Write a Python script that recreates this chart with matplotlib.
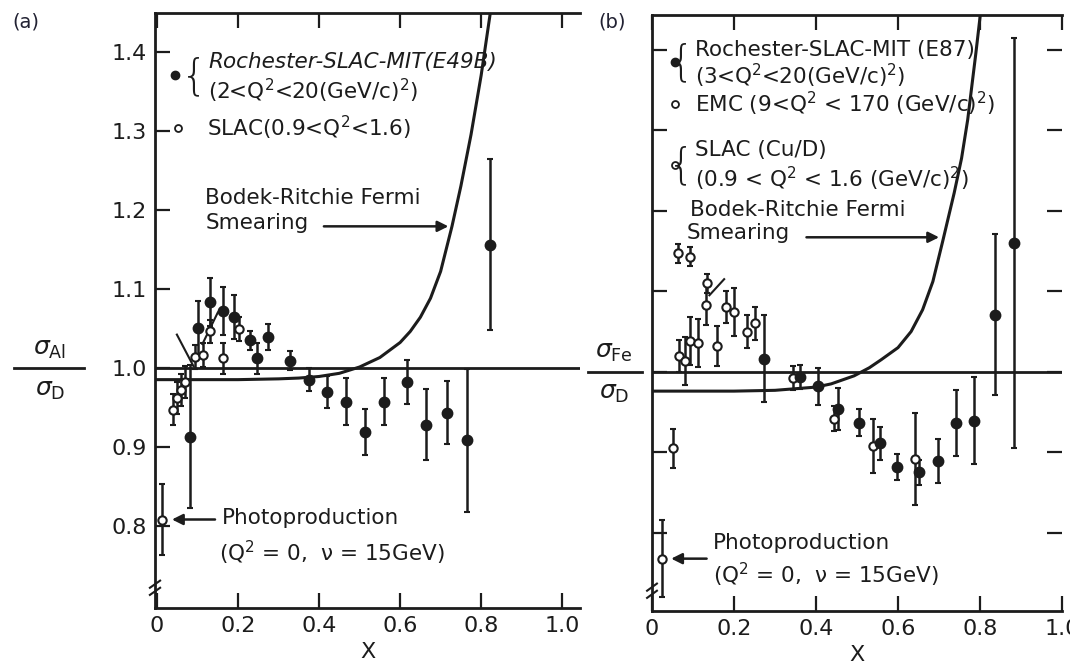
import matplotlib.pyplot as plt
from matplotlib.ticker import FixedLocator, NullFormatter

plt.rcParams['font.family'] = ['DejaVu Sans']

# ---- panel (a): Al / D ----
a_rsm_x = [0.081, 0.102, 0.131, 0.164, 0.191, 0.230, 0.246, 0.275, 0.328, 0.374,
           0.419, 0.467, 0.514, 0.560, 0.617, 0.664, 0.715, 0.765, 0.821]
a_rsm_y = [0.913, 1.050, 1.083, 1.072, 1.064, 1.035, 1.012, 1.039, 1.009, 0.985,
           0.969, 0.957, 0.919, 0.957, 0.982, 0.928, 0.943, 0.908, 1.156]
a_rsm_err = [0.090, 0.035, 0.030, 0.030, 0.028, 0.012, 0.020, 0.016, 0.012, 0.015,
             0.020, 0.030, 0.029, 0.030, 0.028, 0.045, 0.040, 0.090, 0.108]

a_slac_x = [0.012, 0.040, 0.050, 0.060, 0.068, 0.094, 0.114, 0.131, 0.164, 0.203]
a_slac_y = [0.808, 0.947, 0.962, 0.972, 0.982, 1.014, 1.016, 1.046, 1.012, 1.049]
a_slac_err = [0.045, 0.020, 0.020, 0.020, 0.020, 0.015, 0.015, 0.015, 0.020, 0.015]

# Bodek-Ritchie Fermi smearing curve
a_curve_x = [0.0, 0.1, 0.2, 0.3, 0.35, 0.40, 0.45, 0.50, 0.55, 0.60, 0.625, 0.65,
             0.675, 0.70, 0.728, 0.75, 0.775, 0.80, 0.822]
a_curve_y = [0.985, 0.985, 0.985, 0.986, 0.987, 0.989, 0.993, 1.001, 1.013, 1.032, 1.046, 1.064,
             1.088, 1.122, 1.179, 1.230, 1.295, 1.370, 1.447]

# ---- panel (b): Fe / D ----
b_rsm_x = [0.273, 0.362, 0.406, 0.454, 0.506, 0.556, 0.598, 0.650, 0.698, 0.741, 0.785, 0.837, 0.883]
b_rsm_y = [1.016, 0.994, 0.982, 0.954, 0.937, 0.911, 0.882, 0.875, 0.889, 0.937, 0.939, 1.071, 1.160]
b_rsm_err = [0.054, 0.015, 0.023, 0.026, 0.017, 0.021, 0.016, 0.016, 0.027, 0.041, 0.054, 0.100, 0.255]

b_open_x = [0.024, 0.052, 0.064, 0.093, 0.134, 0.132, 0.181, 0.199, 0.231, 0.251,
            0.067, 0.081, 0.093, 0.113, 0.158, 0.345, 0.443, 0.539, 0.642]
b_open_y = [0.768, 0.905, 1.147, 1.143, 1.110, 1.083, 1.080, 1.074, 1.050, 1.060,
            1.020, 1.013, 1.038, 1.036, 1.032, 0.992, 0.942, 0.908, 0.892]
b_open_err = [0.048, 0.024, 0.012, 0.012, 0.012, 0.025, 0.020, 0.030, 0.020, 0.020,
              0.020, 0.030, 0.030, 0.030, 0.025, 0.015, 0.015, 0.034, 0.057]

b_curve_x = [0.0, 0.1, 0.2, 0.3, 0.40, 0.437, 0.493, 0.53, 0.559, 0.60, 0.632, 0.66,
             0.685, 0.709, 0.737, 0.755, 0.770, 0.790, 0.800]
b_curve_y = [0.976, 0.976, 0.976, 0.977, 0.981, 0.985, 0.995, 1.005, 1.015, 1.030, 1.050, 1.077,
             1.112, 1.162, 1.222, 1.265, 1.313, 1.396, 1.440]

x_ticks = [0, 0.2, 0.4, 0.6, 0.8, 1.0]
x_labels = ['0', '0.2', '0.4', '0.6', '0.8', '1.0']
y_ticks = [0.8, 0.9, 1.0, 1.1, 1.2, 1.3, 1.4]
y_labels = ['0.8', '0.9', '1.0', '1.1', '1.2', '1.3', '1.4']

W, H = 1070, 665
fig = plt.figure(figsize=(W / 100, H / 100), dpi=100)
ax_a = fig.add_axes([155 / W, (H - 608) / H, (580 - 155) / W, (608 - 13) / H])
ax_b = fig.add_axes([652 / W, (H - 611) / H, (1062 - 652) / W, (611 - 15) / H])

ink = '#1c1c1c'
fs = 15.5


def frame(ax, xlim, ylim):
    ax.set_xlim(*xlim)
    ax.set_ylim(*ylim)
    for s in ['left', 'bottom', 'top']:
        ax.spines[s].set_linewidth(2)
        ax.spines[s].set_color(ink)
    ax.spines['right'].set_visible(False)
    ax.xaxis.set_major_locator(FixedLocator(x_ticks))
    ax.set_xticklabels(x_labels)
    ax.yaxis.set_major_locator(FixedLocator(y_ticks))
    ax.tick_params(direction='in', length=11, width=1.6, color=ink,
                   top=True, labelsize=16, labelcolor=ink, pad=6)
    ax.axhline(1.0, color=ink, lw=2)
    # axis break marks near the bottom of the y axis
    for dy in (0.0, 0.012):
        ax.plot([-0.012, 0.012], [0.022 + dy, 0.034 + dy], transform=ax.transAxes,
                color=ink, lw=1.5, clip_on=False)
    ax.set_xlabel('X', fontsize=16, color=ink, labelpad=4)


def points(ax, x, y, err, filled):
    ax.errorbar(x, y, yerr=err, fmt='o', ms=7 if filled else 6,
                mfc=ink if filled else 'white', mec=ink, mew=1.5,
                ecolor=ink, elinewidth=1.8, capsize=2.5, capthick=1.5, zorder=3)


def brace(ax, x, y):
    ax.text(x, y, '{', fontsize=30, va='center', ha='right', color=ink,
            fontweight='light')


# ---- draw (a) ----
frame(ax_a, (-0.005, 1.044), (0.696, 1.449))
ax_a.set_yticklabels(y_labels)
ax_a.plot(a_curve_x, a_curve_y, color=ink, lw=2.2, solid_joinstyle='round')
points(ax_a, a_rsm_x, a_rsm_y, a_rsm_err, True)
points(ax_a, a_slac_x, a_slac_y, a_slac_err, False)
ax_a.plot([0.049, 0.090], [1.042, 1.002], color=ink, lw=1.5)
ax_a.plot([0.112, 0.150], [1.030, 1.070], color=ink, lw=1.5)

ax_a.plot([0.044], [1.370], 'o', color=ink, ms=6)
brace(ax_a, 0.124, 1.368)
ax_a.text(0.126, 1.387, 'Rochester-SLAC-MIT(E49B)', fontsize=fs, style='italic',
          va='center', color=ink)
ax_a.text(0.126, 1.350, '(2<Q$^2$<20(GeV/c)$^2$)', fontsize=fs, va='center', color=ink)
ax_a.plot([0.052], [1.303], 'o', mfc='white', mec=ink, mew=1.3, ms=5)
ax_a.text(0.123, 1.303, 'SLAC(0.9<Q$^2$<1.6)', fontsize=fs, va='center', color=ink)
ax_a.text(0.119, 1.215, 'Bodek-Ritchie Fermi', fontsize=fs, va='center', color=ink)
ax_a.text(0.119, 1.183, 'Smearing', fontsize=fs, va='center', color=ink)
ax_a.annotate('', xy=(0.726, 1.179), xytext=(0.405, 1.179),
              arrowprops=dict(arrowstyle='-|>', color=ink, lw=1.8, mutation_scale=16))
ax_a.text(0.160, 0.810, 'Photoproduction', fontsize=fs, va='center', color=ink)
ax_a.text(0.152, 0.766, '(Q$^2$ = 0,  ν = 15GeV)', fontsize=fs, va='center', color=ink)
ax_a.annotate('', xy=(0.030, 0.808), xytext=(0.150, 0.808),
              arrowprops=dict(arrowstyle='-|>', color=ink, lw=1.8, mutation_scale=16))

# ---- draw (b) ----
frame(ax_b, (0.0, 1.0), (0.703, 1.443))
ax_b.yaxis.set_major_formatter(NullFormatter())
ax_b.tick_params(axis='y', right=True)
ax_b.plot(b_curve_x, b_curve_y, color=ink, lw=2.2, solid_joinstyle='round')
points(ax_b, b_open_x, b_open_y, b_open_err, False)
points(ax_b, b_rsm_x, b_rsm_y, b_rsm_err, True)
ax_b.plot([0.140, 0.176], [1.095, 1.115], color=ink, lw=1.5)

ax_b.plot([0.056], [1.385], 'o', color=ink, ms=6)
brace(ax_b, 0.104, 1.384)
ax_b.text(0.105, 1.400, 'Rochester-SLAC-MIT (E87)', fontsize=fs, va='center', color=ink)
ax_b.text(0.105, 1.367, '(3<Q$^2$<20(GeV/c)$^2$)', fontsize=fs, va='center', color=ink)
ax_b.plot([0.056], [1.332], 'o', mfc='white', mec=ink, mew=1.3, ms=5)
ax_b.text(0.105, 1.332, 'EMC (9<Q$^2$ < 170 (GeV/c)$^2$)', fontsize=fs, va='center', color=ink)
ax_b.plot([0.056], [1.257], 'o', mfc='white', mec=ink, mew=1.3, ms=5)
brace(ax_b, 0.104, 1.256)
ax_b.text(0.105, 1.276, 'SLAC (Cu/D)', fontsize=fs, va='center', color=ink)
ax_b.text(0.105, 1.239, '(0.9 < Q$^2$ < 1.6 (GeV/c)$^2$)', fontsize=fs, va='center', color=ink)
ax_b.text(0.093, 1.201, 'Bodek-Ritchie Fermi', fontsize=fs, va='center', color=ink)
ax_b.text(0.085, 1.172, 'Smearing', fontsize=fs, va='center', color=ink)
ax_b.annotate('', xy=(0.707, 1.167), xytext=(0.370, 1.167),
              arrowprops=dict(arrowstyle='-|>', color=ink, lw=1.8, mutation_scale=16))
ax_b.text(0.149, 0.788, 'Photoproduction', fontsize=fs, va='center', color=ink)
ax_b.text(0.149, 0.748, '(Q$^2$ = 0,  ν = 15GeV)', fontsize=fs, va='center', color=ink)
ax_b.annotate('', xy=(0.040, 0.768), xytext=(0.140, 0.768),
              arrowprops=dict(arrowstyle='-|>', color=ink, lw=1.8, mutation_scale=16))

# ---- y labels and panel letters ----
fig.text(50 / W, 1 - 349 / H, r'$\sigma_{\rm Al}$', fontsize=18, ha='center', va='center', color=ink)
fig.text(50 / W, 1 - 390 / H, r'$\sigma_{\rm D}$', fontsize=18, ha='center', va='center', color=ink)
fig.add_artist(plt.Line2D([14 / W, 84 / W], [1 - 368 / H] * 2, color=ink, lw=2))
fig.text(614 / W, 1 - 352 / H, r'$\sigma_{\rm Fe}$', fontsize=18, ha='center', va='center', color=ink)
fig.text(614 / W, 1 - 393 / H, r'$\sigma_{\rm D}$', fontsize=18, ha='center', va='center', color=ink)
fig.add_artist(plt.Line2D([588 / W, 642 / W], [1 - 372 / H] * 2, color=ink, lw=2))
fig.text(12 / W, 1 - 22 / H, '(a)', fontsize=14, va='center', color='#222233')
fig.text(598 / W, 1 - 22 / H, '(b)', fontsize=14, va='center', color='#222233')

fig.savefig('out.png', dpi=100)
